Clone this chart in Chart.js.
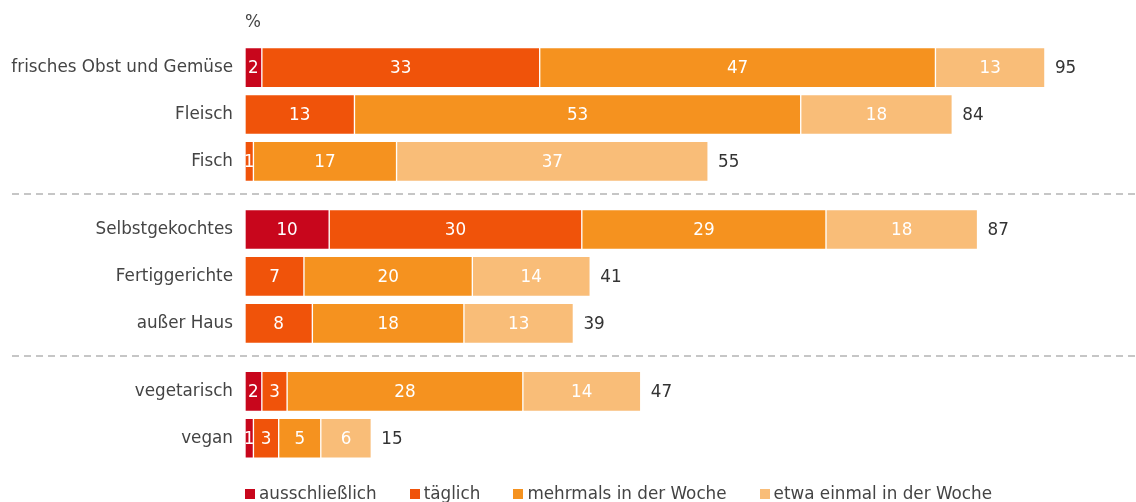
<!DOCTYPE html>
<html lang="de">
<head>
  <meta charset="UTF-8" />
  <title>Ernährung</title>
  <script src="https://cdn.jsdelivr.net/npm/chart.js"></script>
  <style>
    html, body { margin: 0; padding: 0; background: #fff; overflow: hidden; }
    .wrap { width: 1136px; height: 502px; position: relative; }
    #legend { position: absolute; left: 245px; top: 483px; display: flex;
      font-family: "DejaVu Sans", Verdana, sans-serif; font-size: 16.8px; line-height: 20px; color: #444; }
    #legend .item { display: flex; align-items: center; margin-right: 33px; white-space: nowrap; }
    #legend .box { width: 10px; height: 10px; margin-right: 4px; margin-top: 2px; }
  </style>
</head>
<body>
  <div class="wrap">
    <canvas id="chart"></canvas>
    <div id="legend"></div>
  </div>

  <script>
    const categories = ['frisches Obst und Gemüse', 'Fleisch', 'Fisch', 'Selbstgekochtes', 'Fertiggerichte', 'außer Haus', 'vegetarisch', 'vegan'];
    const groupOf = [0, 0, 0, 1, 1, 1, 2, 2];
    const seriesNames = ['ausschließlich', 'täglich', 'mehrmals in der Woche', 'etwa einmal in der Woche'];
    const ausschliesslich = [2, null, null, 10, null, null, 2, 1];
    const taeglich = [33, 13, 1, 30, 7, 8, 3, 3];
    const mehrmals = [47, 53, 17, 29, 20, 18, 28, 5];
    const einmal = [13, 18, 37, 18, 14, 13, 14, 6];
    const totals = [95, 84, 55, 87, 41, 39, 47, 15];

    const colors = ['#c8061c', '#f0530a', '#f5921f', '#f9bd78'];
    const FONT = '"DejaVu Sans", Verdana, sans-serif';
    const FSIZE = 16.8;
    Chart.defaults.font.family = FONT;
    Chart.defaults.font.size = FSIZE;
    Chart.defaults.color = '#444';

    // rows sit on a linear axis, with some extra room between the groups
    const groupGap = 0.45;
    const rowPos = categories.map((c, i) => i + groupOf[i] * groupGap);

    function toPoints(arr) {
      return arr.map((v, i) => ({ x: v, y: rowPos[i] }));
    }

    const seriesData = [ausschliesslich, taeglich, mehrmals, einmal];

    const labelPlugin = {
      id: 'labels',
      beforeDatasetsDraw(chart) {
        // dashed separators between groups
        const ctx = chart.ctx, y = chart.scales.y;
        ctx.save();
        ctx.strokeStyle = '#c6c6c6';
        ctx.lineWidth = 2;
        ctx.setLineDash([7, 5]);
        for (let i = 1; i < rowPos.length; i++) {
          if (groupOf[i] !== groupOf[i - 1]) {
            const py = Math.round(y.getPixelForValue((rowPos[i] + rowPos[i - 1]) / 2)) - 1;
            ctx.beginPath();
            ctx.moveTo(12, py);
            ctx.lineTo(chart.width, py);
            ctx.stroke();
          }
        }
        ctx.restore();
      },
      afterDatasetsDraw(chart) {
        const ctx = chart.ctx;
        ctx.save();
        ctx.font = FSIZE + 'px ' + FONT;
        ctx.textBaseline = 'middle';
        ctx.textAlign = 'center';
        ctx.fillStyle = '#fff';
        chart.data.datasets.forEach((ds, di) => {
          chart.getDatasetMeta(di).data.forEach((bar, i) => {
            const v = seriesData[di][i];
            if (v == null) return;
            const c = bar.getCenterPoint();
            ctx.fillText(String(v), c.x, c.y + 1);
          });
        });
        ctx.fillStyle = '#333';
        ctx.textAlign = 'left';
        totals.forEach((t, i) => {
          const px = chart.scales.x.getPixelForValue(t);
          const py = chart.scales.y.getPixelForValue(rowPos[i]);
          ctx.fillText(String(t), px + 10, py + 1);
        });
        ctx.restore();
      }
    };

    new Chart(document.getElementById('chart'), {
      type: 'bar',
      data: {
        datasets: seriesNames.map((name, k) => ({
          label: name,
          data: toPoints(seriesData[k]),
          backgroundColor: colors[k],
          borderColor: 'rgba(255,255,255,0.4)',
          borderWidth: 1,
          borderSkipped: false,
          barThickness: 40,
          clip: false
        }))
      },
      options: {
        indexAxis: 'y',
        responsive: true,
        maintainAspectRatio: false,
        animation: false,
        layout: { padding: { left: 0, right: 49, top: 13, bottom: 45 } },
        scales: {
          x: {
            type: 'linear',
            position: 'top',
            stacked: true,
            min: 0,
            max: 100,
            ticks: { display: false },
            grid: { display: false, drawTicks: false },
            border: { display: false },
            title: {
              display: true,
              text: '%',
              align: 'start',
              color: '#444',
              font: { size: FSIZE },
              padding: { top: 0, bottom: 11 }
            }
          },
          y: {
            type: 'linear',
            stacked: true,
            reverse: true,
            offset: false,
            min: -0.5,
            max: 8.3,
            grid: { display: false, drawTicks: false },
            border: { display: false },
            afterBuildTicks(scale) {
              scale.ticks = rowPos.map(v => ({ value: v }));
            },
            afterFit(scale) {
              scale.width = 245;
              scale.paddingTop = 0;
              scale.paddingBottom = 0;
            },
            ticks: {
              padding: 12,
              color: '#444',
              font: { size: FSIZE },
              callback: (value, index) => categories[index]
            }
          }
        },
        plugins: {
          tooltip: { enabled: false },
          legend: { display: false }
        }
      },
      plugins: [labelPlugin]
    });

    // legend below the chart
    const legend = document.getElementById('legend');
    seriesNames.forEach((name, k) => {
      const item = document.createElement('div');
      item.className = 'item';
      const box = document.createElement('span');
      box.className = 'box';
      box.style.background = colors[k];
      item.appendChild(box);
      item.appendChild(document.createTextNode(name));
      legend.appendChild(item);
    });
  </script>
</body>
</html>
